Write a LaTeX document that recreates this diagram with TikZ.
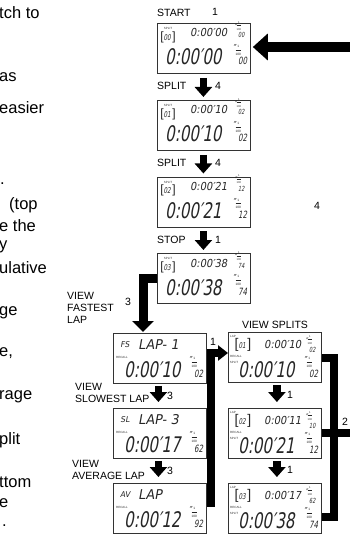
\documentclass[tikz,border=0pt]{standalone}
\usepackage{graphicx}
\usepackage{fontspec}
\setmainfont{Liberation Sans}
\newfontfamily\lcdn{DejaVu Sans}[FakeStretch=0.70,FakeSlant=0.18]
\newfontfamily\lcdm{DejaVu Sans}[FakeStretch=0.90,FakeSlant=0.18]
\newfontfamily\lcdw{DejaVu Sans}[FakeStretch=0.95,FakeSlant=0.18]
\usetikzlibrary{arrows.meta}

% tiny "1 over 100"
\newcommand\tfr[1]{{\fontsize{#1}{#1}\selectfont\shortstack{1\\[-0.9pt]\rule{1.7em}{0.3pt}\\[-0.4pt]100}}}
\newcommand\brk[2]{{\fontsize{#1}{#1}\selectfont[}{\lcdn\fontsize{8}{8}\selectfont #2}\,{\fontsize{#1}{#1}\selectfont]}}
% hundredths block: quote size, fraction font size, digit size, indent, digits, quote raise
\newcommand\hblk[6]{\shortstack[l]{\raisebox{#6}{\lcdn\fontsize{#1}{#1}\selectfont″}\tfr{#2}\\[-0.5pt]\hspace{#4}{\lcdn\fontsize{#3}{#3}\selectfont #5}}}

\tikzset{
  dbox/.style={draw=black!80, line width=0.8pt, minimum width=93pt, minimum height=50pt, inner sep=0pt, anchor=north west},
  lbl/.style={font=\fontsize{10.5}{12}\selectfont, inner sep=0pt},
  para/.style={font=\fontsize{16.5}{19}\selectfont, inner sep=0pt, anchor=west},
  tinyt/.style={font=\fontsize{3}{3}\selectfont, inner sep=0pt, text=black!80},
  lcdbig/.style={font=\lcdn\fontsize{21.5}{21.5}\selectfont, inner sep=0pt, anchor=base west, text=black!85},
  lcdsm/.style={font=\lcdm\fontsize{11}{11}\selectfont, inner sep=0pt, anchor=base west, text=black!85},
  hund/.style={inner sep=0pt, anchor=base west, text=black!85},
  lcdtag/.style={font=\lcdw\fontsize{8}{8}\selectfont, inner sep=0pt, text=black!85},
  lcdlap/.style={font=\lcdw\fontsize{13.5}{13.5}\selectfont, inner sep=0pt, anchor=west, text=black!85},
  brkn/.style={inner sep=0pt, text=black!85},
  varrow/.style={line width=7.5pt, -{Triangle[width=17pt,length=10pt]}},
  barline/.style={line width=7.5pt},
}

% big row: name, xstart, ybase, time, digits
\newcommand\bigrow[5]{%
  \node[lcdbig] (#1b) at (#2,#3) {#4};
  \node[hund] (#1bh) at (75.5,#3) {\hblk{11}{3.2}{10}{5.5pt}{#5}{2.5pt}};
}
% small row: name, xstart, ybase, time, digits, digit base
\newcommand\smallrow[6]{%
  \node[lcdsm] (#1s) at (#2,#3) {#4};
  \node[hund] (#1sh) at (77,#6) {\hblk{9}{2.7}{7}{4pt}{#5}{0pt}};
}
% top column box: name, y, nn, time, frac
\newcommand\Abox[5]{%
  \node[dbox] (#1) at (157,#2) {};
  \begin{scope}[shift={(157,#2)}]
    \node[tinyt] (#1t) at (11,5.5) {SPLIT};
    \node[brkn] (#1n) at (11,14) {\brk{12}{#3}};
    \smallrow{#1}{33}{14}{#4}{#5}{15}
    \bigrow{#1}{8}{42}{#4}{#5}
  \end{scope}}
% split recall box: name, y, nn, stime, sfrac, btime, bfrac
\newcommand\Bbox[7]{%
  \node[dbox] (#1) at (228,#2) {};
  \begin{scope}[shift={(228,#2)}]
    \node[tinyt] (#1t) at (5,4) {LAP};
    \node[brkn] (#1n) at (15,13) {\brk{14}{#3}};
    \smallrow{#1}{36}{16}{#4}{#5}{20}
    \node[tinyt] (#1r) at (8,24) {RECALL};
    \node[tinyt] (#1p) at (6,30) {SPLIT};
    \bigrow{#1}{10}{45}{#6}{#7}
  \end{scope}}
% lap recall box: name, y, tag, text, btime, bfrac
\newcommand\Cbox[6]{%
  \node[dbox] (#1) at (113,#2) {};
  \begin{scope}[shift={(113,#2)}]
    \node[lcdtag] (#1g) at (12,12) {#3};
    \node[lcdlap] (#1l) at (25,12) {#4};
    \node[tinyt] (#1r) at (9,24) {RECALL};
    \bigrow{#1}{11}{44}{#5}{#6}
  \end{scope}}

\begin{document}
\begin{tikzpicture}[x=1pt,y=-1pt]
\useasboundingbox[fill=white] (0,0) rectangle (350,540);

% paragraph fragments at the left edge
\node[para] (p1) at (-1,13) {tch to};
\node[para] (p2) at (-1,77) {as};
\node[para] (p3) at (-1,108) {easier};
\node[para] (p4) at (0,184) {.};
\node[para] (p5) at (9,205) {(top};
\node[para] (p6) at (-1,226) {e the};
\node[para] (p7) at (-1,247) {y};
\node[para] (p8) at (-1,268) {ulative};
\node[para] (p9) at (-1,313) {ge};
\node[para] (p10) at (-1,353) {e,};
\node[para] (p11) at (-1,397) {rage};
\node[para] (p12) at (-1,440) {plit};
\node[para] (p13) at (-1,482) {ttom};
\node[para] (p14) at (-1,503) {e};
\node[para] (p15) at (2,526) {.};

% top column
\Abox{A0}{23}{00}{0:00′00}{00}
\Abox{A1}{100}{01}{0:00′10}{02}
\Abox{A2}{176.5}{02}{0:00′21}{12}
\Abox{A3}{253}{03}{0:00′38}{74}

\node[lbl, anchor=west] (l0) at (157,13) {START};
\node[lbl] (k0) at (215,12) {1};
\node[lbl, anchor=west] (l1) at (157,86) {SPLIT};
\node[lbl] (k1) at (218,86) {4};
\node[lbl, anchor=west] (l2) at (157,163) {SPLIT};
\node[lbl] (k2) at (218,163) {4};
\node[lbl, anchor=west] (l3) at (157,240) {STOP};
\node[lbl] (k3) at (218,240) {1};
\node[lbl] (k4) at (317,206) {4};

\coordinate (rin) at (352,47);
\draw[line width=10pt, -{Triangle[width=26pt,length=15pt]}] (rin) -- ([xshift=2pt]A0.east |- rin);
\draw[varrow] ([xshift=-0.5pt,yshift=-4pt]A0.south) -- ([xshift=-0.5pt,yshift=3pt]A1.north);
\draw[varrow] ([xshift=-0.5pt,yshift=-4pt]A1.south) -- ([xshift=-0.5pt,yshift=3pt]A2.north);
\draw[varrow] ([xshift=-0.5pt,yshift=-4pt]A2.south) -- ([xshift=-0.5pt,yshift=3pt]A3.north);

% left column
\Cbox{FS}{333}{FS}{LAP- 1}{0:00′10}{02}
\Cbox{SL}{408}{SL}{LAP- 3}{0:00′17}{62}
\Cbox{AV}{483}{AV}{LAP}{0:00′12}{92}

\draw[line width=9pt, -{Triangle[width=21pt,length=11pt]}] (A3.west) -| ([yshift=1pt]FS.north -| 143,0);
\node[lbl] (k5) at (128,302) {3};
\node[lbl, anchor=north west, align=left] (v1) at (67,292) {VIEW\\FASTEST\\LAP};

\draw[varrow] ([xshift=-1.5pt,yshift=-2pt]FS.south) -- ([xshift=-1.5pt,yshift=6pt]SL.north);
\draw[varrow] ([xshift=-1.5pt,yshift=-2pt]SL.south) -- ([xshift=-1.5pt,yshift=6pt]AV.north);
\node[lbl] (k6) at (170,396) {3};
\node[lbl] (k7) at (170,471) {3};
\node[lbl, anchor=north west, align=left] (v2) at (75,383) {VIEW\\SLOWEST LAP};
\node[lbl, anchor=north west, align=left] (v3) at (72,460) {VIEW\\AVERAGE LAP};

% right column
\Bbox{B1}{332}{01}{0:00′10}{02}{0:00′10}{02}
\Bbox{B2}{408}{02}{0:00′11}{10}{0:00′21}{12}
\Bbox{B3}{483}{03}{0:00′17}{62}{0:00′38}{74}
\node[lbl] (vs) at (275,325) {VIEW SPLITS};

\draw[varrow] ([xshift=2pt,yshift=-2pt]B1.south) -- ([xshift=2pt,yshift=6pt]B2.north);
\draw[varrow] ([xshift=2pt,yshift=-2pt]B2.south) -- ([xshift=2pt,yshift=6pt]B3.north);
\node[lbl] (k8) at (290,395) {1};
\node[lbl] (k9) at (290,470) {1};

% connector from lap displays into the split list
\coordinate (lbt) at (211,353);
\draw[barline, -{Triangle[width=15pt,length=10pt]}] (AV.east |- 0,503) -| (lbt) -- (B1.west |- lbt);
\draw[barline] (SL.east |- 0,433) -- (211,433);
\node[lbl] (k10) at (213,342) {1};

% right bracket
\coordinate (rout) at (352,433);
\draw[barline] (B1.east |- 0,358) -| (334,517) -- (B3.east |- 0,517);
\draw[barline] (B2.east |- rout) -- (rout);
\node[lbl] (k11) at (345,422) {2};
\end{tikzpicture}
\end{document}
